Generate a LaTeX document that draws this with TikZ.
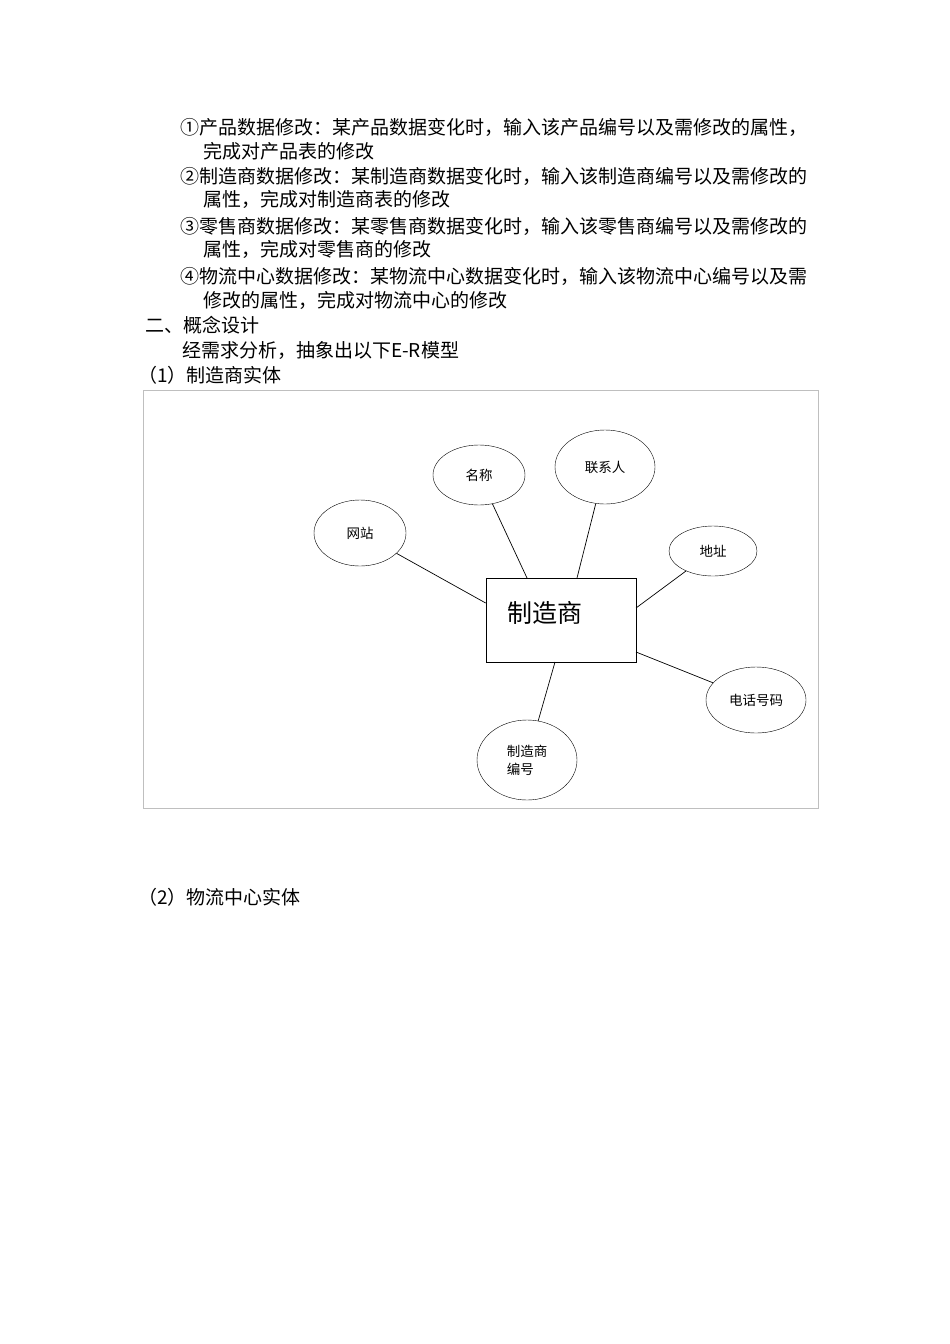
\documentclass[tikz,border=0pt]{standalone}
\usepackage{fontspec}
\newfontfamily\cjk{Noto Sans CJK SC}
\usetikzlibrary{shapes.geometric}
\begin{document}
\begin{tikzpicture}[x=1pt,y=-1pt,
  txt/.style={anchor=west,inner sep=0pt,font=\cjk\fontsize{19}{20}\selectfont},
  attr/.style={draw,ellipse,inner sep=0pt,font=\cjk\fontsize{13.5}{18}\selectfont,align=left},
  lnk/.style={draw,line width=0.7pt}]
\useasboundingbox (0,0) rectangle (950,1344);
\fill[white] (0,0) rectangle (950,1344);
\node[txt] (l1) at (180,127) {①产品数据修改：某产品数据变化时，输入该产品编号以及需修改的属性，};
\node[txt] (l2) at (203,151) {完成对产品表的修改};
\node[txt] (l3) at (180,176) {②制造商数据修改：某制造商数据变化时，输入该制造商编号以及需修改的};
\node[txt] (l4) at (203,199) {属性，完成对制造商表的修改};
\node[txt] (l5) at (180,226) {③零售商数据修改：某零售商数据变化时，输入该零售商编号以及需修改的};
\node[txt] (l6) at (203,249) {属性，完成对零售商的修改};
\node[txt] (l7) at (180,276) {④物流中心数据修改：某物流中心数据变化时，输入该物流中心编号以及需};
\node[txt] (l8) at (203,300) {修改的属性，完成对物流中心的修改};
\node[txt] (h2) at (145,325) {二、概念设计};
\node[txt] (p1) at (182,350) {经需求分析，抽象出以下E-R模型};
\node[txt] (c1) at (138,375) {（1）制造商实体};
\node[txt] (c2) at (138,897) {（2）物流中心实体};
\draw[black!25] (143,390) rectangle (818,808);
\node[draw,line width=0.7pt,minimum width=150pt,minimum height=84pt,inner sep=0pt] (m) at (561,620) {};
\node[font=\cjk\fontsize{25}{28}\selectfont,inner sep=0pt] (mt) at (545,613) {制造商};
\node[attr,minimum width=92pt,minimum height=60pt] (a1) at (479,475) {名称};
\node[attr,minimum width=100pt,minimum height=74pt] (a2) at (605,467) {联系人};
\node[attr,minimum width=92pt,minimum height=66pt] (a3) at (360,533) {网站};
\node[attr,minimum width=88pt,minimum height=50pt] (a4) at (713,551) {地址};
\node[attr,minimum width=100pt,minimum height=66pt] (a5) at (756,700) {电话号码};
\node[attr,minimum width=100pt,minimum height=80pt] (a6) at (527,760) {制造商\\编号};
\draw[lnk] (a3) -- (m.west |- 0,603);
\draw[lnk] (a1) -- (527,578);
\draw[lnk] (a2) -- (577,578);
\draw[lnk] (a4) -- (636,608);
\draw[lnk] (a5) -- (636,652);
\draw[lnk] (a6) -- (555,662);
\end{tikzpicture}
\end{document}
